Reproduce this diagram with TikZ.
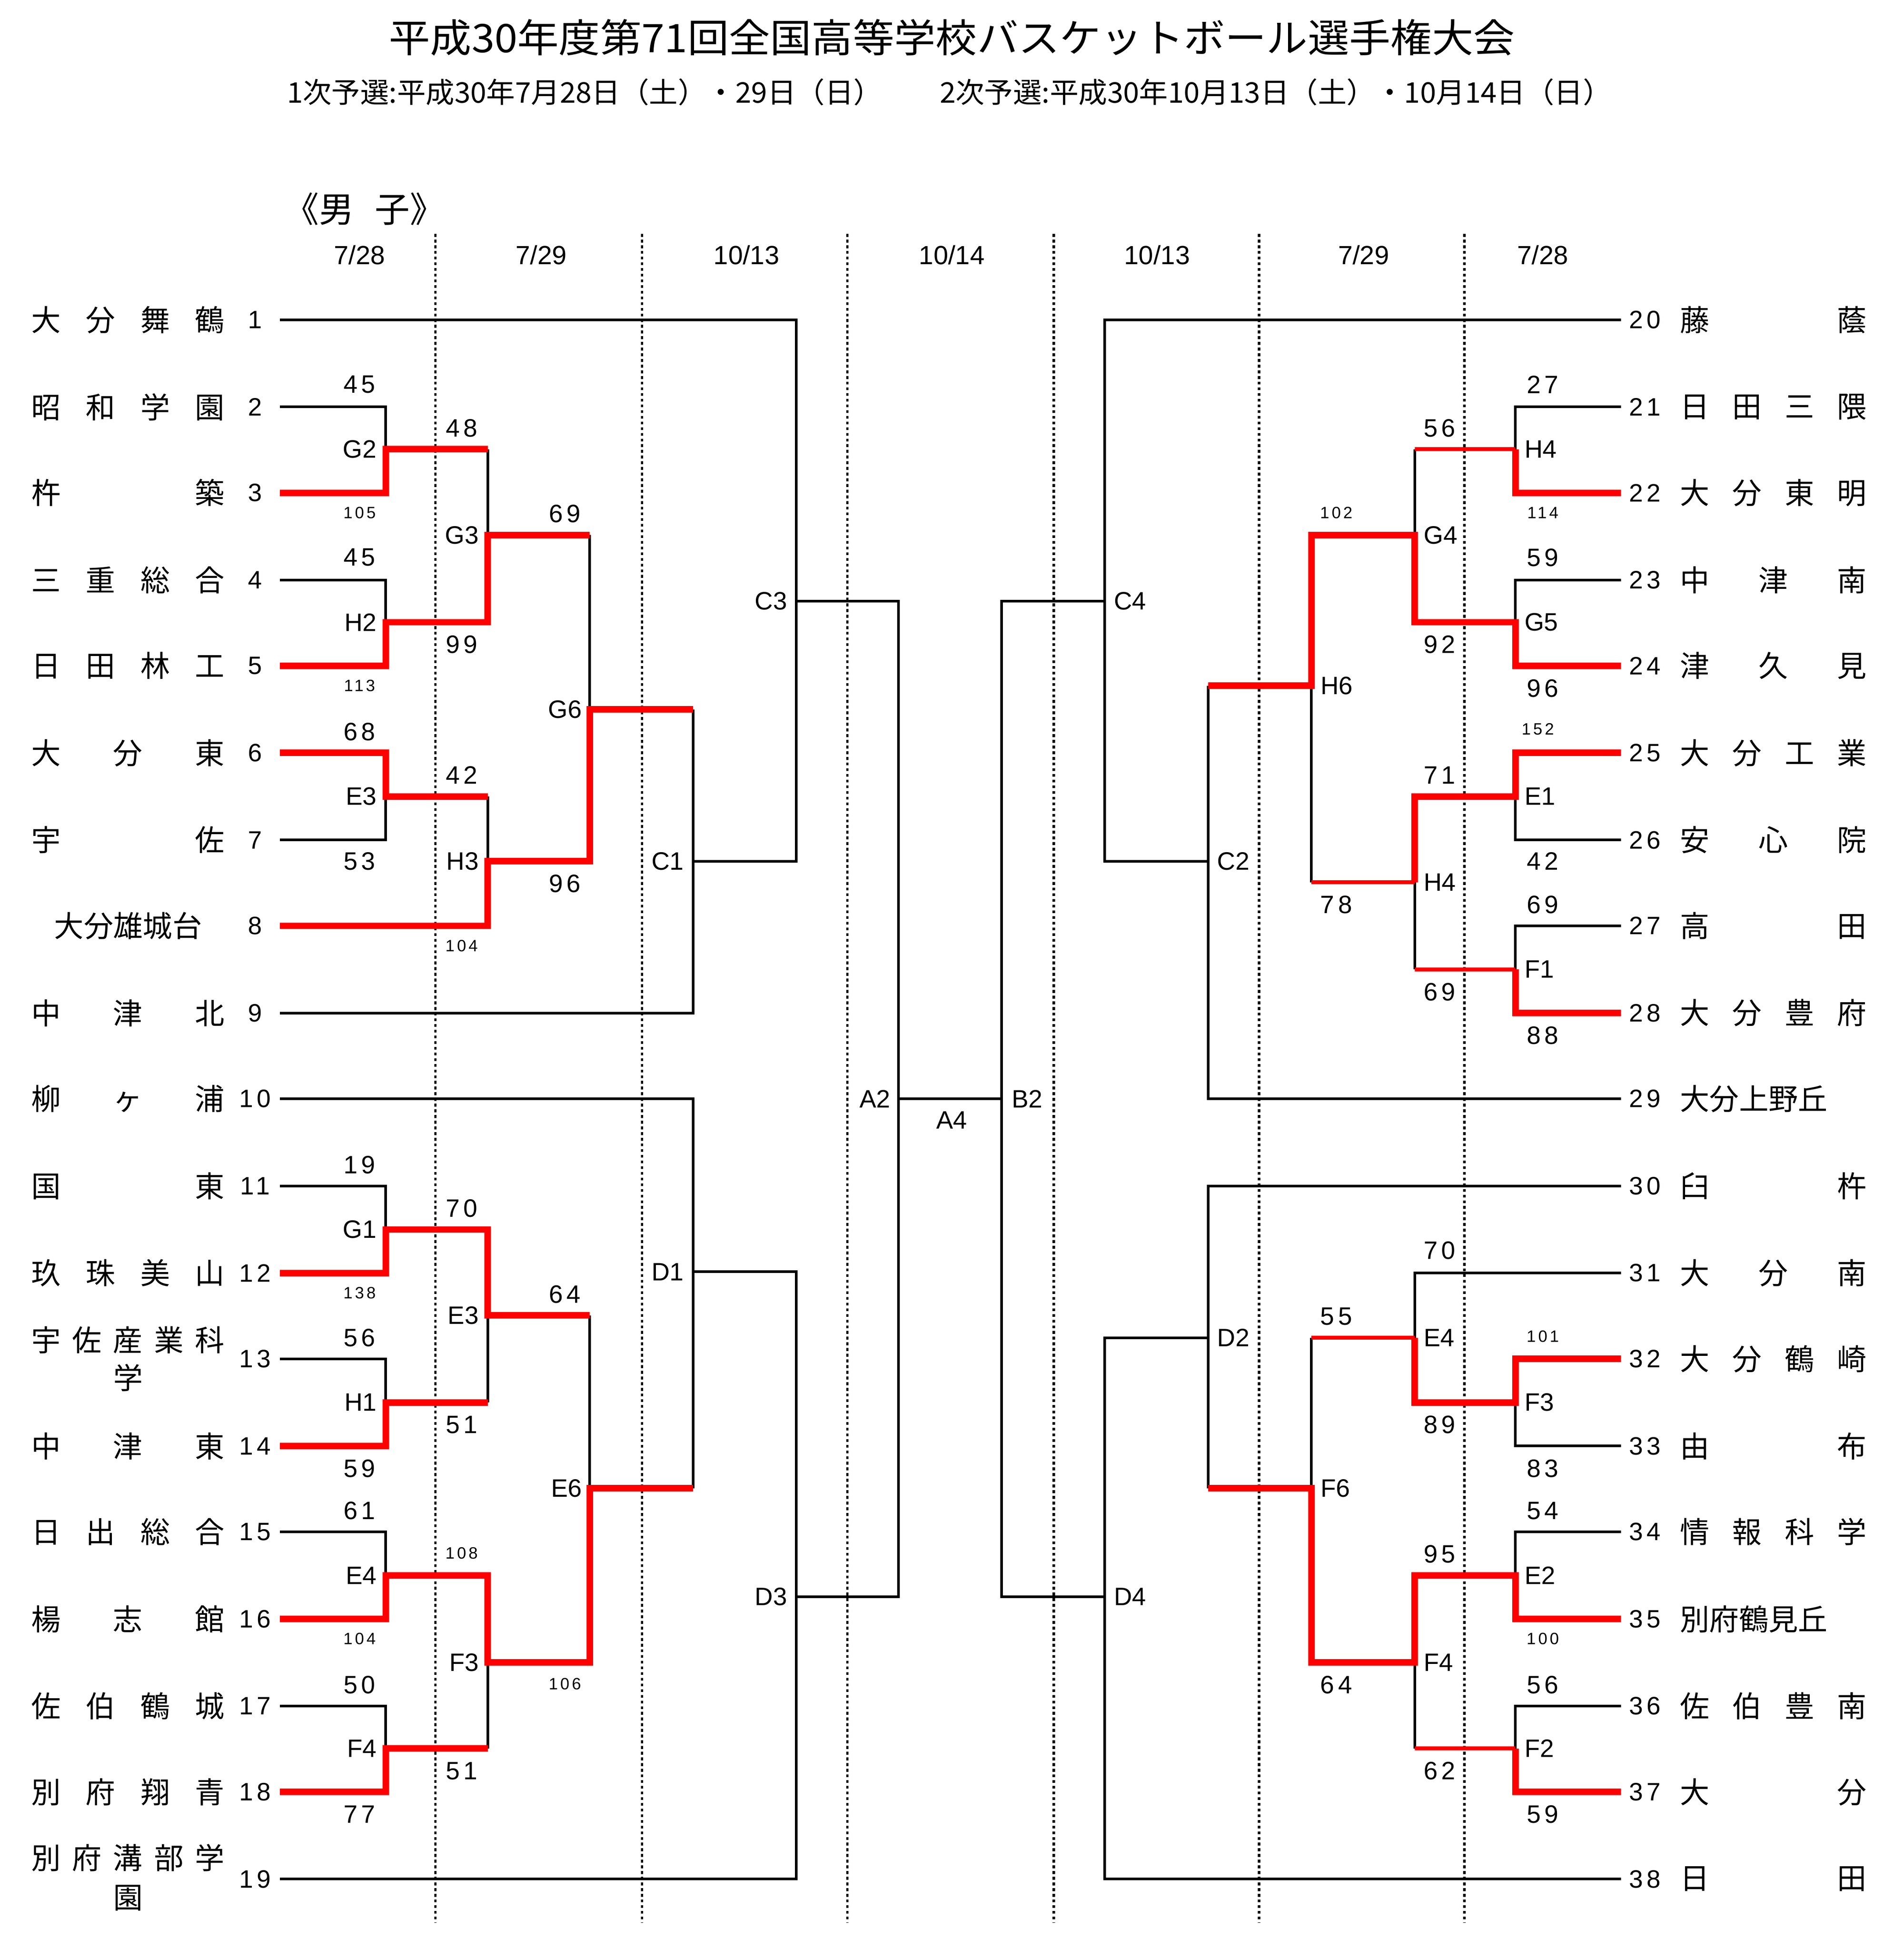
\documentclass[tikz,border=0pt]{standalone}
\usepackage{fontspec}
\setmainfont{Noto Sans CJK JP}
\newfontfamily\numf{Liberation Sans}[LetterSpace=15]
\newfontfamily\labf{Liberation Sans}
\begin{document}
\begin{tikzpicture}[x=0.02cm,y=-0.02cm,
  bk/.style={black,line width=1.2pt},
  rw/.style={red,line width=3pt,line join=miter},
  rt/.style={red,line width=1.8pt},
  dl/.style={black,line width=1.1pt,dash pattern=on 1.3pt off 1.3pt},
  nm/.style={inner sep=0pt,font=\fontsize{13.5}{14}\selectfont},
  num/.style={inner sep=0pt,font=\numf\fontsize{11.5}{12}\selectfont},
  sc/.style={inner sep=0pt,font=\numf\fontsize{11.5}{12}\selectfont},
  ss/.style={inner sep=0pt,font=\numf\fontsize{7.5}{8}\selectfont},
  lb/.style={inner sep=0pt,font=\labf\fontsize{11.5}{12}\selectfont},
  dt/.style={inner sep=0pt,font=\labf\fontsize{12}{13}\selectfont}]
\useasboundingbox (0,0) rectangle (1530,1567);
\node[inner sep=0pt] (title) at (765,30) {\resizebox{18.1cm}{\height}{\fontsize{18}{20}\selectfont 平成30年度第71回全国高等学校バスケットボール選手権大会}};
\node[inner sep=0pt] (sub) at (763,74) {\resizebox{21.3cm}{\height}{\fontsize{13}{14}\selectfont 1次予選:平成30年7月28日（土）・29日（日）\hspace{2em}2次予選:平成30年10月13日（土）・10月14日（日）}};
\node[inner sep=0pt,anchor=west] (sex) at (228,168) {\fontsize{16}{17}\selectfont 《男\hspace{0.6em}子》};
% dates
\node[dt] (d1) at (289,205) {7/28};
\node[dt] (d2) at (435,205) {7/29};
\node[dt] (d3) at (600,205) {10/13};
\node[dt] (d4) at (765,205) {10/14};
\node[dt] (d5) at (930,205) {10/13};
\node[dt] (d6) at (1096,205) {7/29};
\node[dt] (d7) at (1240,205) {7/28};
\foreach \x in {350,516,681,847,1012,1177} \draw[dl] (\x,188) -- (\x,1545);
% left names
\foreach \i/\y/\t in {1/257/大\hfill 分\hfill 舞\hfill 鶴,2/327/昭\hfill 和\hfill 学\hfill 園,3/396/杵\hfill 築,4/466/三\hfill 重\hfill 総\hfill 合,5/535/日\hfill 田\hfill 林\hfill 工,6/605/大\hfill 分\hfill 東,7/675/宇\hfill 佐,9/814/中\hfill 津\hfill 北,10/883/柳\hfill ヶ\hfill 浦,11/953/国\hfill 東,12/1023/玖\hfill 珠\hfill 美\hfill 山,14/1162/中\hfill 津\hfill 東,15/1231/日\hfill 出\hfill 総\hfill 合,16/1301/楊\hfill 志\hfill 館,17/1371/佐\hfill 伯\hfill 鶴\hfill 城,18/1440/別\hfill 府\hfill 翔\hfill 青}
  \node[nm,anchor=west] (ln\i) at (25,\y) {\makebox[3.1cm]{\t}};
\node[nm] (ln8) at (103,744) {大分雄城台};
\node[nm,anchor=west] (ln13) at (25,1077) {\makebox[3.1cm]{宇\hfill 佐\hfill 産\hfill 業\hfill 科}};
\node[nm] (ln13b) at (103,1107) {学};
\node[nm,anchor=west] (ln19) at (25,1493) {\makebox[3.1cm]{別\hfill 府\hfill 溝\hfill 部\hfill 学}};
\node[nm] (ln19b) at (103,1525) {園};
\foreach \i/\y in {1/257,2/327,3/396,4/466,5/535,6/605,7/675,8/744,9/814,10/883,11/953,12/1023,13/1092,14/1162,15/1231,16/1301,17/1371,18/1440,19/1510}
  \node[num] (lnum\i) at (205,\y) {\i};
% right names
\foreach \i/\y/\t in {20/257/藤\hfill 蔭,21/327/日\hfill 田\hfill 三\hfill 隈,22/396/大\hfill 分\hfill 東\hfill 明,23/466/中\hfill 津\hfill 南,24/535/津\hfill 久\hfill 見,25/605/大\hfill 分\hfill 工\hfill 業,26/675/安\hfill 心\hfill 院,27/744/高\hfill 田,28/814/大\hfill 分\hfill 豊\hfill 府,30/953/臼\hfill 杵,31/1023/大\hfill 分\hfill 南,32/1092/大\hfill 分\hfill 鶴\hfill 崎,33/1162/由\hfill 布,34/1231/情\hfill 報\hfill 科\hfill 学,36/1371/佐\hfill 伯\hfill 豊\hfill 南,37/1440/大\hfill 分,38/1510/日\hfill 田}
  \node[nm,anchor=west] (rn\i) at (1350,\y) {\makebox[3.0cm]{\t}};
\node[nm,anchor=west] (rn29) at (1350,883) {大分上野丘};
\node[nm,anchor=west] (rn35) at (1350,1301) {別府鶴見丘};
\foreach \i/\y in {20/257,21/327,22/396,23/466,24/535,25/605,26/675,27/744,28/814,29/883,30/953,31/1023,32/1092,33/1162,34/1231,35/1301,36/1371,37/1440,38/1510}
  \node[num] (rnum\i) at (1322,\y) {\i};
% left black
\draw[bk] (225,257) -- (640,257) -- (640,692) -- (557,692);
\draw[bk] (640,483) -- (722,483) -- (722,1283) -- (640,1283);
\draw[bk] (722,883) -- (805,883);
\draw[bk] (225,327) -- (310,327) -- (310,361);
\draw[bk] (225,466) -- (310,466) -- (310,500);
\draw[bk] (225,675) -- (310,675) -- (310,640);
\draw[bk] (392,361) -- (392,430);
\draw[bk] (392,640) -- (392,692);
\draw[bk] (474,430) -- (474,570);
\draw[bk] (557,570) -- (557,814) -- (225,814);
\draw[bk] (225,883) -- (557,883) -- (557,1196);
\draw[bk] (557,1022) -- (640,1022) -- (640,1510) -- (225,1510);
\draw[bk] (225,953) -- (310,953) -- (310,988);
\draw[bk] (225,1092) -- (310,1092) -- (310,1127);
\draw[bk] (392,1127) -- (392,1057);
\draw[bk] (225,1231) -- (310,1231) -- (310,1266);
\draw[bk] (225,1371) -- (310,1371) -- (310,1405);
\draw[bk] (392,1405) -- (392,1336);
\draw[bk] (474,1057) -- (474,1196);
% right black
\draw[bk] (1303,257) -- (888,257) -- (888,692) -- (971,692);
\draw[bk] (888,483) -- (805,483) -- (805,1283) -- (888,1283);
\draw[bk] (1303,327) -- (1218,327) -- (1218,361);
\draw[bk] (1137,361) -- (1137,430);
\draw[bk] (1303,466) -- (1218,466) -- (1218,500);
\draw[bk] (1303,675) -- (1218,675) -- (1218,640);
\draw[bk] (1303,744) -- (1218,744) -- (1218,779);
\draw[bk] (1137,709) -- (1137,779);
\draw[bk] (1054,551) -- (1054,709);
\draw[bk] (971,551) -- (971,883) -- (1303,883);
\draw[bk] (1303,953) -- (971,953) -- (971,1196);
\draw[bk] (971,1075) -- (888,1075) -- (888,1510) -- (1303,1510);
\draw[bk] (1303,1023) -- (1137,1023) -- (1137,1075);
\draw[bk] (1054,1075) -- (1054,1196);
\draw[bk] (1303,1162) -- (1218,1162) -- (1218,1127);
\draw[bk] (1303,1231) -- (1218,1231) -- (1218,1266);
\draw[bk] (1303,1371) -- (1218,1371) -- (1218,1405);
\draw[bk] (1137,1336) -- (1137,1405);
% left red
\draw[rw] (225,396) -- (310,396) -- (310,361) -- (392,361);
\draw[rw] (225,535) -- (310,535) -- (310,500) -- (392,500) -- (392,430) -- (474,430);
\draw[rw] (225,605) -- (310,605) -- (310,640) -- (392,640);
\draw[rw] (225,744) -- (392,744) -- (392,692) -- (474,692) -- (474,570) -- (557,570);
\draw[rw] (225,1023) -- (310,1023) -- (310,988) -- (392,988) -- (392,1057) -- (474,1057);
\draw[rw] (225,1162) -- (310,1162) -- (310,1127) -- (392,1127);
\draw[rw] (225,1301) -- (310,1301) -- (310,1266) -- (392,1266) -- (392,1336) -- (474,1336) -- (474,1196) -- (557,1196);
\draw[rw] (225,1440) -- (310,1440) -- (310,1405) -- (392,1405);
% right red
\draw[rt] (1218,361) -- (1137,361);
\draw[rw] (1303,396) -- (1218,396) -- (1218,361);
\draw[rw] (1303,535) -- (1218,535) -- (1218,500) -- (1137,500) -- (1137,430) -- (1054,430) -- (1054,551) -- (971,551);
\draw[rt] (1137,709) -- (1054,709);
\draw[rw] (1303,605) -- (1218,605) -- (1218,640) -- (1137,640) -- (1137,709);
\draw[rt] (1218,779) -- (1137,779);
\draw[rw] (1303,814) -- (1218,814) -- (1218,779);
\draw[rt] (1137,1075) -- (1054,1075);
\draw[rw] (1303,1092) -- (1218,1092) -- (1218,1127) -- (1137,1127) -- (1137,1075);
\draw[rw] (1303,1301) -- (1218,1301) -- (1218,1266) -- (1137,1266) -- (1137,1336) -- (1054,1336) -- (1054,1196) -- (971,1196);
\draw[rt] (1218,1405) -- (1137,1405);
\draw[rw] (1303,1440) -- (1218,1440) -- (1218,1405);
% left round labels
\foreach \n/\x/\y in {G2/303/361,H2/303/500,E3/303/640,G3/385/430,H3/385/692,G6/468/570,C1/550/692,C3/633/483,G1/303/988,H1/303/1127,E4/303/1266,F4/303/1405,E3/385/1057,F3/385/1336,E6/468/1196,D1/550/1022,D3/633/1283,A2/716/883}
  \node[lb,anchor=east] (L\n\y) at (\x,\y) {\n};
\node[lb] (A4) at (765,900) {A4};
\foreach \n/\x/\y in {B2/813/883,C4/895/483,C2/978/692,H6/1061/551,G4/1144/430,H4/1225/361,G5/1225/500,E1/1225/640,H4/1144/709,F1/1225/779,D2/978/1075,E4/1144/1075,F3/1225/1127,F6/1061/1196,E2/1225/1266,F4/1144/1336,F2/1225/1405,D4/895/1283}
  \node[lb,anchor=west] (R\n\y) at (\x,\y) {\n};
% scores
\foreach \s/\x/\y in {45/289/309,45/289/448,68/289/588,53/289/692,19/289/936,56/289/1075,59/289/1180,61/289/1214,50/289/1354,77/289/1458,48/371/344,99/371/518,42/371/623,70/371/971,51/371/1145,51/371/1423,69/454/413,96/454/710,64/454/1040,27/1240/309,59/1240/448,96/1240/553,42/1240/692,69/1240/727,88/1240/832,70/1157/1005,83/1240/1180,54/1240/1214,56/1240/1354,59/1240/1458,56/1157/344,92/1157/518,71/1157/623,69/1157/797,89/1157/1145,95/1157/1249,62/1157/1423,78/1074/727,55/1074/1058,64/1074/1354}
  \node[sc] (s\x\y) at (\x,\y) {\s};
\foreach \s/\x/\y in {105/289/412,113/289/551,138/289/1039,104/289/1317,104/371/760,108/371/1248,106/454/1353,114/1240/412,152/1236/586,101/1240/1074,100/1240/1317,102/1074/412}
  \node[ss] (t\x\y) at (\x,\y) {\s};
\end{tikzpicture}
\end{document}
